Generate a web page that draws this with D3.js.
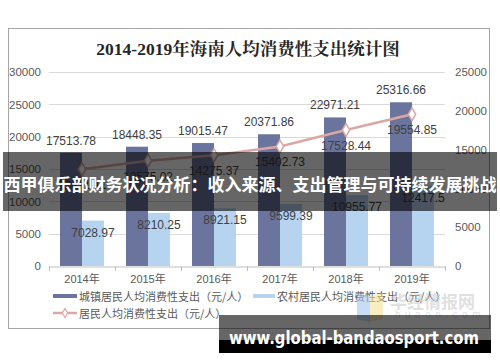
<!DOCTYPE html>
<html>
<head>
<meta charset="utf-8">
<script src="https://cdn.jsdelivr.net/npm/d3@7"></script>
<style>
  body { margin: 0; background: #fff; }
  svg { display: block; font-family: "Liberation Sans", Arial, "Noto Sans CJK SC", sans-serif; }
</style>
</head>
<body>
<div id="chart"></div>
<script>
// data
const years = ['2014年', '2015年', '2016年', '2017年', '2018年', '2019年']
const urban = [17513.78, 18448.35, 19015.47, 20371.86, 22971.21, 25316.66]
const rural = [7028.97, 8210.25, 8921.15, 9599.39, 10955.77, 12417.5]
const resident = [12471.11, 13575.02, 14275.37, 15402.73, 17528.44, 19554.85]
const leftTicks = [0, 5000, 10000, 15000, 20000, 25000, 30000]
const rightTicks = [0, 5000, 10000, 15000, 20000, 25000]

const W = 500, H = 362
const PLOT = { LEFT: 49, RIGHT: 445, TOP: 72, BOTTOM: 266 }
const DARK = '#6b749c', LIGHT = '#b6d3f0', PINK = '#dba7a5'

const svg = d3.select('#chart').append('svg')
    .attr('width', W)
    .attr('height', H)

// outer frame
svg.append('rect')
    .attr('x', 8.5).attr('y', 28.5)
    .attr('width', 481).attr('height', 300)
    .attr('fill', '#fff')
    .attr('stroke', '#a6a6a6')

svg.append('text')
    .attr('x', 248).attr('y', 55)
    .attr('text-anchor', 'middle')
    .attr('font-family', '"Liberation Serif", "Noto Serif CJK SC", "Noto Sans CJK SC", serif')
    .attr('font-weight', 'bold')
    .attr('font-size', 17.5)
    .attr('fill', '#262626')
    .text('2014-2019年海南人均消费性支出统计图')

// scales
const x = d3.scaleBand().domain(years).range([PLOT.LEFT, PLOT.RIGHT])
const x1 = d3.scaleBand().domain(['urban', 'rural']).range([0, x.bandwidth()])
    .paddingInner(0).paddingOuter(0.5)
const yL = d3.scaleLinear().domain([0, 30000]).range([PLOT.BOTTOM, PLOT.TOP])
const yR = d3.scaleLinear().domain([0, 25000]).range([PLOT.BOTTOM, PLOT.TOP])

// gridlines
svg.append('g').selectAll('line')
    .data(leftTicks.slice(1))
    .join('line')
    .attr('x1', PLOT.LEFT).attr('x2', PLOT.RIGHT)
    .attr('y1', d => Math.round(yL(d)) + 0.5)
    .attr('y2', d => Math.round(yL(d)) + 0.5)
    .attr('stroke', '#d9d9d9')

// left axis labels
const leftAxis = svg.append('g')
    .attr('transform', 'translate(' + 41 + ',0)')
    .call(d3.axisLeft(yL).tickValues(leftTicks).tickFormat(d3.format('d')).tickSize(0).tickPadding(0))
leftAxis.select('.domain').remove()
leftAxis.selectAll('text').attr('font-size', 11.5).attr('fill', '#595959')
    .attr('font-family', '"Liberation Sans", Arial, sans-serif')

// right axis labels
const rightAxis = svg.append('g')
    .attr('transform', 'translate(' + 455 + ',0)')
    .call(d3.axisRight(yR).tickValues(rightTicks).tickFormat(d3.format('d')).tickSize(0).tickPadding(0))
rightAxis.select('.domain').remove()
rightAxis.selectAll('text').attr('font-size', 11.5).attr('fill', '#595959')
    .attr('font-family', '"Liberation Sans", Arial, sans-serif')

// bars
const groups = svg.append('g').selectAll('g')
    .data(years)
    .join('g')
    .attr('transform', d => 'translate(' + x(d) + ',0)')

groups.append('rect')
    .attr('x', x1('urban'))
    .attr('y', (d, i) => yL(urban[i]))
    .attr('width', x1.bandwidth())
    .attr('height', (d, i) => yL(0) - yL(urban[i]))
    .attr('fill', DARK)

groups.append('rect')
    .attr('x', x1('rural'))
    .attr('y', (d, i) => yL(rural[i]))
    .attr('width', x1.bandwidth())
    .attr('height', (d, i) => yL(0) - yL(rural[i]))
    .attr('fill', LIGHT)

// bottom axis
const bottomAxis = svg.append('g')
    .attr('transform', 'translate(0,' + (PLOT.BOTTOM + 0.5) + ')')
    .call(d3.axisBottom(x).tickSize(0).tickPadding(9))
bottomAxis.select('.domain').attr('stroke', '#bfbfbf')
bottomAxis.selectAll('text').attr('font-size', 11).attr('fill', '#595959')
    .attr('font-family', '"Liberation Sans", Arial, "Noto Sans CJK SC", sans-serif')
svg.append('g').selectAll('line')
    .data(years.concat(['end']))
    .join('line')
    .attr('x1', d => d === 'end' ? PLOT.RIGHT + 0.5 : Math.round(x(d)) + 0.5)
    .attr('x2', d => d === 'end' ? PLOT.RIGHT + 0.5 : Math.round(x(d)) + 0.5)
    .attr('y1', PLOT.BOTTOM).attr('y2', PLOT.BOTTOM + 5)
    .attr('stroke', '#bfbfbf')

// line series
const cx = d => x(d) + x.bandwidth() / 2
const line = d3.line()
    .x((d, i) => cx(years[i]))
    .y(d => yR(d))
svg.append('path')
    .datum(resident)
    .attr('d', line)
    .attr('fill', 'none')
    .attr('stroke', PINK)
    .attr('stroke-width', 2.5)

svg.append('g').selectAll('path')
    .data(resident)
    .join('path')
    .attr('d', d3.symbol(d3.symbolDiamond, 48))
    .attr('transform', (d, i) => 'translate(' + cx(years[i]) + ',' + yR(d) + ')')
    .attr('fill', '#fff')
    .attr('stroke', PINK)
    .attr('stroke-width', 1.5)

// data labels
const labelStyle = sel => sel
    .attr('text-anchor', 'middle')
    .attr('dominant-baseline', 'central')
    .attr('font-size', 12)
    .attr('fill', '#404040')
    .attr('font-family', '"Liberation Sans", Arial, sans-serif')

svg.append('g').selectAll('text')
    .data(urban)
    .join('text')
    .attr('x', (d, i) => x(years[i]) + x1('urban') + x1.bandwidth() / 2)
    .attr('y', d => yL(d) - 12)
    .text(d => d3.format('.2f')(d))
    .call(labelStyle)

svg.append('g').selectAll('text')
    .data(rural)
    .join('text')
    .attr('x', (d, i) => x(years[i]) + x1('rural') + x1.bandwidth() / 2)
    .attr('y', d => yL(d) + 12)
    .text(d => String(d))
    .call(labelStyle)

svg.append('g').selectAll('text')
    .data(resident)
    .join('text')
    .attr('x', (d, i) => cx(years[i]))
    .attr('y', d => yR(d) + 16)
    .text(d => d3.format('.2f')(d))
    .call(labelStyle)

// legend
const legend = svg.append('g')
    .attr('font-size', 11)
    .attr('fill', '#595959')
    .attr('font-family', '"Noto Sans CJK SC", sans-serif')

legend.append('rect').attr('x', 53).attr('y', 294).attr('width', 24).attr('height', 4).attr('fill', DARK)
legend.append('text').attr('x', 79).attr('y', 296).attr('dominant-baseline', 'central')
    .text('城镇居民人均消费性支出（元/人）')
legend.append('rect').attr('x', 253).attr('y', 294).attr('width', 22).attr('height', 4).attr('fill', LIGHT)
legend.append('text').attr('x', 277).attr('y', 296).attr('dominant-baseline', 'central')
    .text('农村居民人均消费性支出（元/人）')
legend.append('line').attr('x1', 53).attr('x2', 77).attr('y1', 313).attr('y2', 313)
    .attr('stroke', PINK).attr('stroke-width', 2.5)
legend.append('path')
    .attr('d', d3.symbol(d3.symbolDiamond, 24))
    .attr('transform', 'translate(65,313)')
    .attr('fill', '#fff').attr('stroke', PINK).attr('stroke-width', 1.2)
legend.append('text').attr('x', 79).attr('y', 313).attr('dominant-baseline', 'central')
    .text('居民人均消费性支出（元/人）')

// faint source watermark
const wm = svg.append('g').attr('opacity', 0.55)
wm.append('path').attr('d', 'M357,293 L370,296 L370,322 L357,319 Z').attr('fill', '#9cc2ee')
wm.append('path').attr('d', 'M370,296 L383,293 L383,319 L370,322 Z').attr('fill', '#f3df8e')
wm.append('text').attr('x', 390).attr('y', 300).attr('dominant-baseline', 'central')
    .attr('font-family', '"Noto Sans CJK SC", sans-serif').attr('font-weight', 'bold')
    .attr('font-size', 17).attr('fill', '#c8c8c8').text('华经情报网')
wm.append('text').attr('x', 395).attr('y', 314).attr('dominant-baseline', 'central')
    .attr('font-size', 10).attr('fill', '#c8c8c8').attr('letter-spacing', 4.5).text('huaon.com')

// banner overlay
svg.append('rect')
    .attr('x', 3).attr('y', 152)
    .attr('width', 494).attr('height', 59)
    .attr('fill', 'rgba(0,0,0,0.6)')
svg.append('text')
    .attr('x', 250).attr('y', 183)
    .attr('text-anchor', 'middle')
    .attr('dominant-baseline', 'central')
    .attr('font-family', '"Noto Sans CJK SC", sans-serif')
    .attr('font-weight', 'bold')
    .attr('font-size', 17)
    .attr('fill', '#fff')
    .text('西甲俱乐部财务状况分析：收入来源、支出管理与可持续发展挑战')

// site watermark
svg.append('rect')
    .attr('x', 219).attr('y', 315)
    .attr('width', 272).attr('height', 25)
    .attr('fill', 'rgba(0,0,0,0.6)')
svg.append('rect')
    .attr('x', 219).attr('y', 340)
    .attr('width', 272).attr('height', 13)
    .attr('fill', '#000')
svg.append('text')
    .attr('x', 229).attr('y', 337)
    .attr('dominant-baseline', 'central')
    .attr('font-family', '"DejaVu Sans", sans-serif')
    .attr('font-weight', 'bold')
    .attr('font-size', 18)
    .attr('textLength', 250)
    .attr('lengthAdjust', 'spacingAndGlyphs')
    .attr('fill', '#fff')
    .text('www.global-bandaosport.com')
</script>
</body>
</html>
